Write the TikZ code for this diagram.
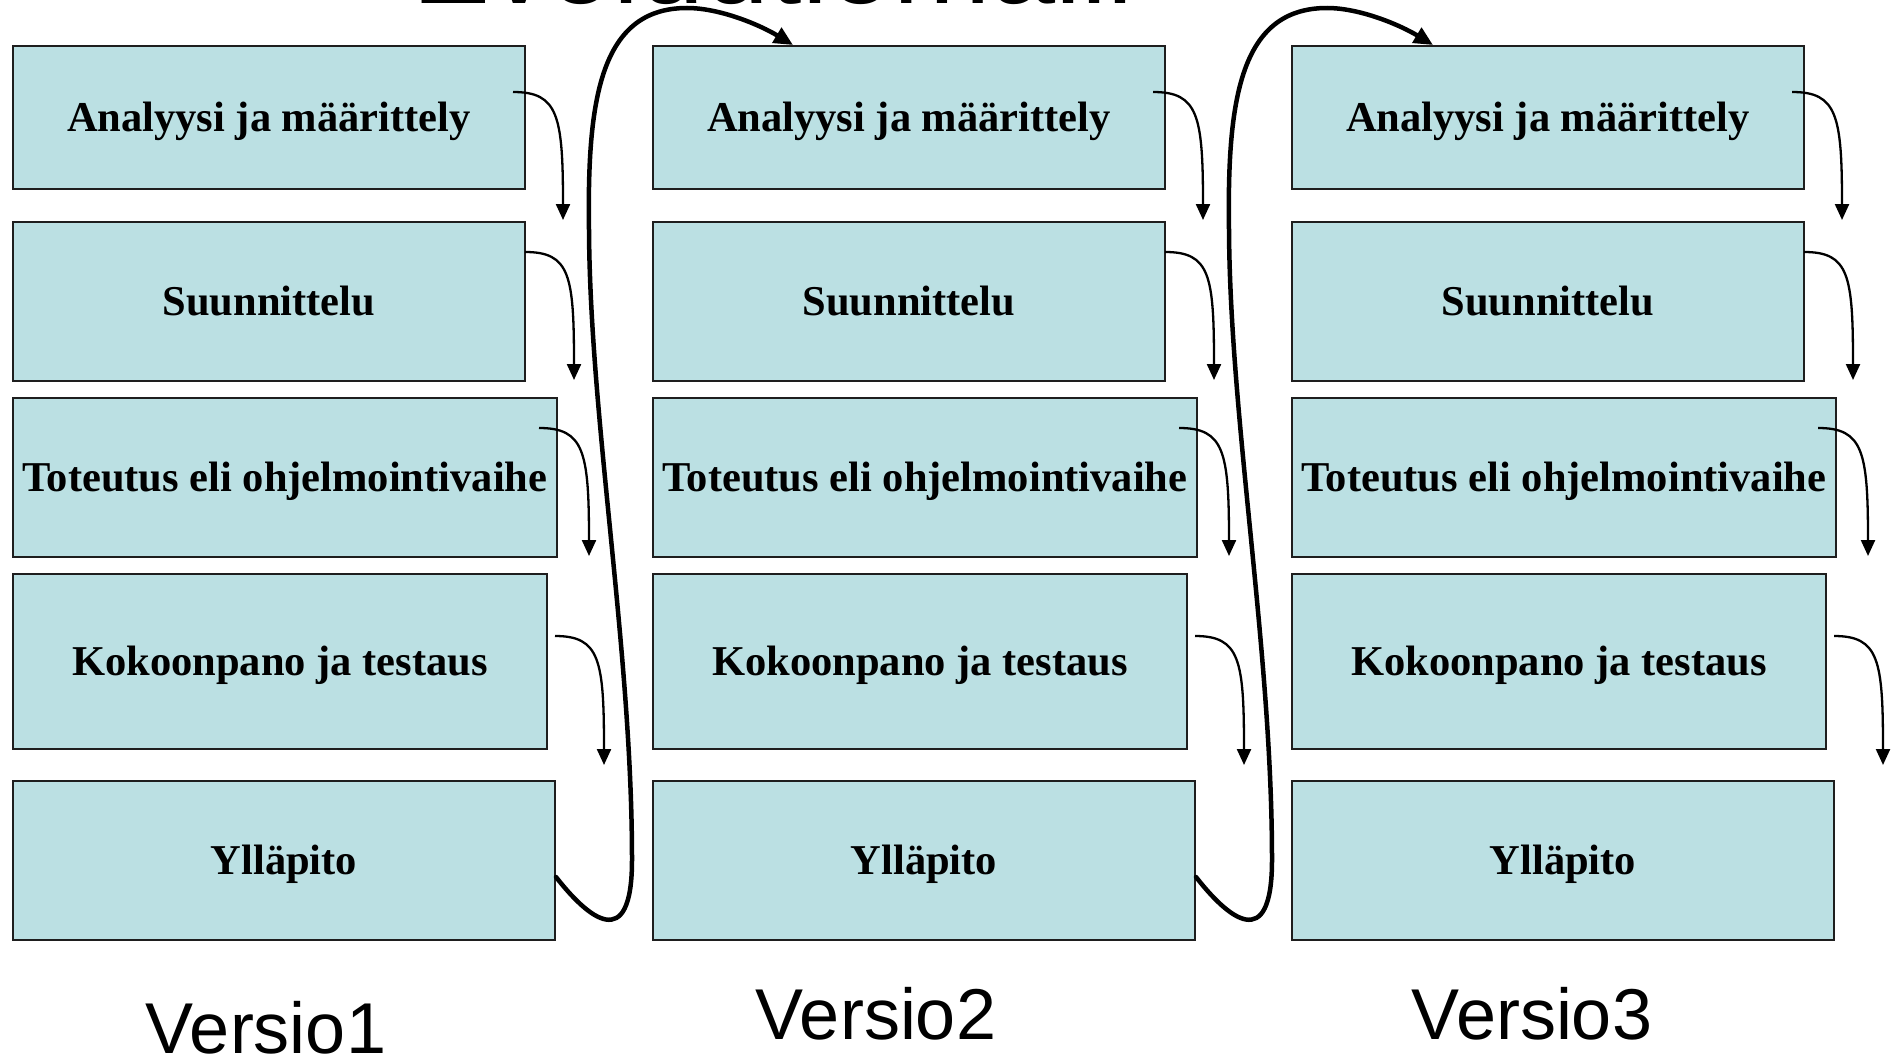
\documentclass[tikz,border=0pt]{standalone}
\usepackage{fontspec}
\setmainfont{Liberation Serif}
\newfontfamily\arialf{Liberation Sans}
\usetikzlibrary{arrows.meta,calc}
\definecolor{boxfill}{RGB}{187,224,227}
\definecolor{boxline}{RGB}{30,30,30}
\begin{document}
\begin{tikzpicture}[x=1pt,y=-1pt,
  phase/.style={draw=boxline, line width=1.8pt, fill=boxfill, anchor=north west,
    inner sep=0pt, text height=28pt, text depth=0pt,
    font=\fontsize{42.5pt}{50pt}\selectfont\bfseries},
  flow/.style={line width=2.3pt, -{Triangle[length=16pt,width=14pt]}},
  loopback/.style={line width=4.5pt, line cap=round, -{Triangle[length=19pt,width=17pt]}},
  ver/.style={anchor=base, inner sep=0pt, font=\arialf\fontsize{72pt}{80pt}\selectfont}]
\useasboundingbox (0,0) rectangle (1903,1060);
\fill[white] (0,0) rectangle (1903,1060);

% title (cut off at the top)
\node[anchor=base west, inner sep=0pt, font=\arialf\fontsize{117pt}{130pt}\selectfont] (title) at (412,3.5) {Evoluutiomalli};

% boxes
\foreach \c/\bx in {1/12, 2/652, 3/1291} {
  \node[phase, minimum width=512pt, minimum height=143pt] (A\c) at (\bx,45) {Analyysi ja määrittely};
  \node[phase, minimum width=512pt, minimum height=159pt] (S\c) at (\bx,221) {Suunnittelu};
  \node[phase, minimum width=544pt, minimum height=159pt] (T\c) at (\bx,397) {Toteutus eli ohjelmointivaihe};
  \node[phase, minimum width=534pt, minimum height=175pt] (K\c) at (\bx,573) {Kokoonpano ja testaus};
  \node[phase, minimum width=542pt, minimum height=159pt] (Y\c) at (\bx,780) {Ylläpito};
}

% small flow arrows
\foreach \c/\sx in {1/0, 2/640, 3/1279} {
  \coordinate (f\c a) at (513+\sx,92);  \coordinate (t\c a) at (563+\sx,220);
  \coordinate (f\c b) at (525+\sx,252); \coordinate (t\c b) at (574+\sx,380);
  \coordinate (f\c c) at (539+\sx,428); \coordinate (t\c c) at (589+\sx,556);
  \coordinate (f\c d) at (555+\sx,636); \coordinate (t\c d) at (604+\sx,765);
  \foreach \k in {a,b,c,d} {
    \draw[flow] (f\c\k) .. controls +(45,0) and +(0,-105) .. (t\c\k);
  }
}

% loop-back curves to next version
\foreach \c/\sx in {1/0, 2/640} {
  \coordinate (L\c s) at (556+\sx,877);
  \coordinate (L\c t) at (793+\sx,45);
  \draw[loopback] (L\c s) .. controls (588+\sx,918) and (632+\sx,955) .. (632+\sx,860)
    .. controls (632+\sx,650) and (590+\sx,420) .. (589+\sx,230)
    .. controls (587+\sx,100) and (600+\sx,8) .. (687+\sx,8)
    .. controls (720+\sx,8) and (760+\sx,25) .. (L\c t);
}

% version labels
\node[ver] (v1) at (266,1053) {Versio1};
\node[ver] (v2) at (876,1039) {Versio2};
\node[ver] (v3) at (1532,1039) {Versio3};
\end{tikzpicture}
\end{document}
